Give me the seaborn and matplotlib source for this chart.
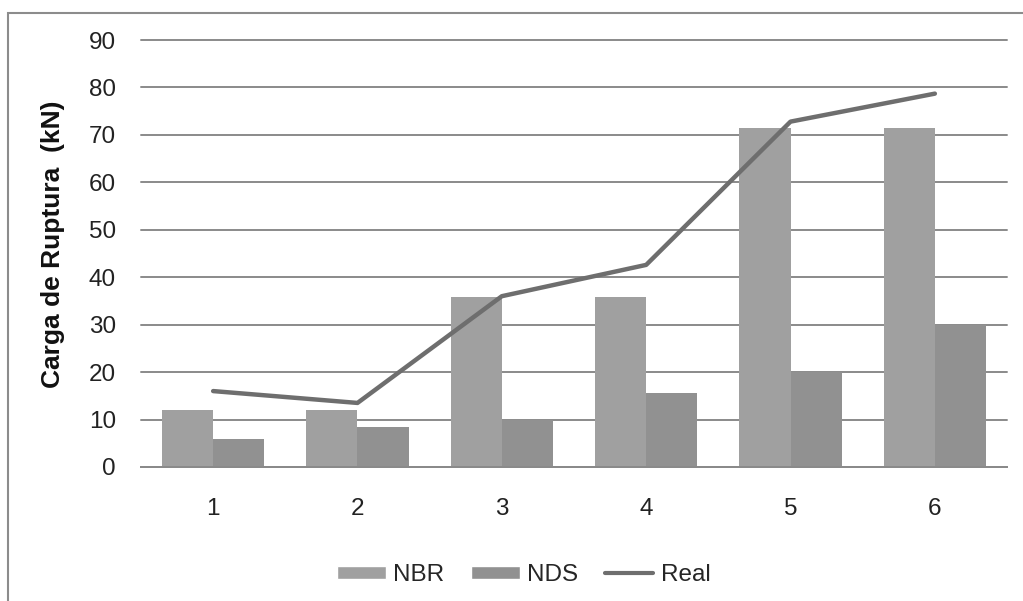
import matplotlib.pyplot as plt
import pandas as pd
import seaborn as sns
from matplotlib.patches import Patch, Rectangle
from matplotlib.lines import Line2D

# Values
ensaios = ["1", "2", "3", "4", "5", "6"]
nbr = [12.0, 12.0, 35.8, 35.8, 71.5, 71.5]
nds = [6.0, 8.4, 10.0, 15.5, 20.0, 30.0]
real = [16.0, 13.5, 36.0, 42.6, 72.8, 78.7]

cor_nbr = "#a0a0a0"
cor_nds = "#919191"
cor_real = "#6e6e6e"

df = pd.DataFrame({"Ensaio": ensaios * 2,
                   "Carga": nbr + nds,
                   "Norma": ["NBR"] * 6 + ["NDS"] * 6})
df_real = pd.DataFrame({"Ensaio": ensaios, "Carga": real})

sns.set_style("white")
plt.rcParams["font.family"] = ["Liberation Sans", "DejaVu Sans"]

fig = plt.figure(figsize=(10.23, 6.01), dpi=100)
ax = fig.add_axes([0.1378, 0.2230, 0.8466, 0.7104])

sns.barplot(data=df, x="Ensaio", y="Carga", hue="Norma",
            palette=[cor_nbr, cor_nds], width=0.71, saturation=1,
            linewidth=0, ax=ax, legend=False, zorder=2)
sns.lineplot(data=df_real, x="Ensaio", y="Carga", color=cor_real,
             linewidth=3.2, ax=ax, zorder=3)

ax.set_xlim(-0.5, 5.5)
ax.set_ylim(0, 90)
ax.set_yticks(range(0, 91, 10))
ax.yaxis.grid(True, color="#8a8a8a", linewidth=1.4, zorder=0)
for gl in ax.get_ygridlines():
    gl.set_clip_on(False)
ax.set_axisbelow(True)
for s in ["top", "right", "left"]:
    ax.spines[s].set_visible(False)
ax.spines["bottom"].set_color("#8a8a8a")
ax.spines["bottom"].set_linewidth(1.4)
ax.tick_params(axis="y", length=0, pad=18, labelsize=17.5, labelcolor="#222222")
ax.tick_params(axis="x", length=0, pad=22, labelsize=17.5, labelcolor="#222222")
ax.set_xlabel("")
ax.set_ylabel("Carga de Ruptura  (kN)", fontsize=19, fontweight="bold",
              color="#111111")
ax.yaxis.set_label_coords(-0.088, 0.522)

handles = [Patch(facecolor=cor_nbr, label="NBR"),
           Patch(facecolor=cor_nds, label="NDS"),
           Line2D([], [], color=cor_real, linewidth=3, label="Real")]
fig.legend(handles=handles, loc="center", bbox_to_anchor=(0.512, 0.043),
           ncol=3, frameon=False, fontsize=17.5, handlelength=2.0,
           handleheight=0.5, handletextpad=0.3, columnspacing=1.1)

# outer chart-area border (open on right and bottom as in the source)
fig.patches.append(Rectangle((8 / 1023, -0.1), 1.2, 1.1 - 13 / 601,
                             transform=fig.transFigure, fill=False,
                             edgecolor="#8c8c8c", linewidth=1.5))

fig.savefig("out.png", dpi=100)
